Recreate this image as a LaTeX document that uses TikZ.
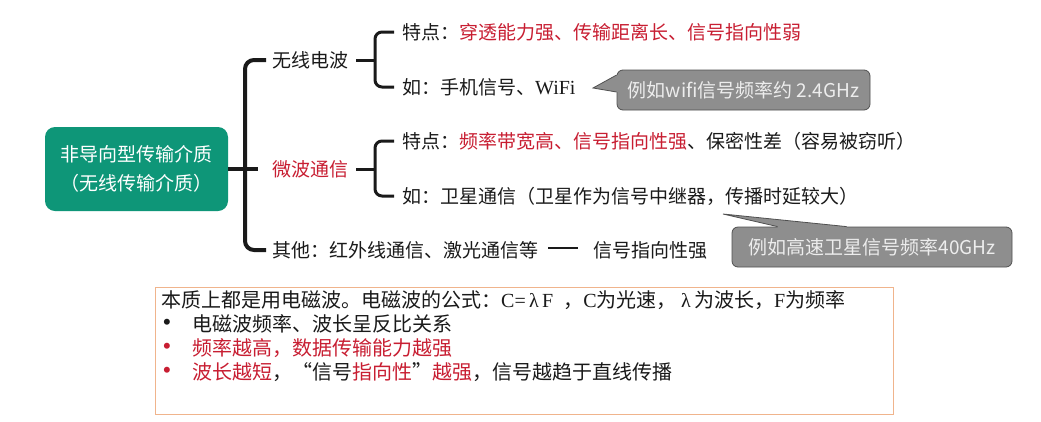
\documentclass[tikz,border=0pt]{standalone}
\usepackage{fontspec}
\setmainfont{Noto Sans CJK SC}
\newfontfamily\serifx{Liberation Serif}
\usetikzlibrary{calc}
\definecolor{teal1}{HTML}{0E9678}
\definecolor{redt}{RGB}{200,30,50}
\definecolor{callfill}{HTML}{8E8E8E}
\definecolor{callline}{HTML}{505050}
\definecolor{calltext}{HTML}{EDEDED}
\definecolor{boxline}{HTML}{F0B48C}
\definecolor{ink}{HTML}{1A1A1A}
\begin{document}
\begin{tikzpicture}[x=1pt,y=-1pt,
  every node/.style={inner sep=0pt, text=ink, font=\fontsize{19}{23}\selectfont},
  lbl/.style={anchor=west},
  brk/.style={line width=3pt, rounded corners=7pt, draw=ink},
  mainbrk/.style={line width=4pt, rounded corners=9pt, draw=ink},
  call/.style={fill=callfill, draw=callline, line width=0.8pt, rounded corners=6pt, text=calltext},
  small/.style={anchor=west, font=\fontsize{20}{24}\selectfont},
  bullet/.style={anchor=center, font=\serifx\bfseries\fontsize{22}{24}\selectfont}]
\useasboundingbox (0,0) rectangle (1041,421);
\fill[white] (0,0) rectangle (1041,421);

% root
\node[fill=teal1, rounded corners=10pt, minimum width=183pt, minimum height=84pt,
      align=center, text=white, font=\fontsize{19}{29}\selectfont] (root) at (136.5,169)
      {非导向型传输介质\\（无线传输介质）};

% level 1
\node[lbl] (wave) at (272,60) {无线电波};
\node[lbl, text=redt] (mw) at (272,169) {微波通信};
\node[lbl] (oth) at (272,250) {其他：红外线通信、激光通信等};
\node[lbl] (sig) at (593,250) {信号指向性强};

\coordinate (sp) at (245,169);
\draw[mainbrk] ([xshift=-6pt]wave.west) -| (sp) |- ([xshift=-6pt]oth.west);
\draw[mainbrk] (root.east) -- ([xshift=-14pt]mw.west);
\draw[line width=2.5pt, draw=ink] ([xshift=10pt,yshift=2pt]oth.east) -- ([xshift=-15pt,yshift=2pt]sig.west);

% level 2: radio waves
\node[lbl] (w1) at (402,32) {特点：\textcolor{redt}{穿透能力强、传输距离长、信号指向性弱}};
\node[lbl] (w2) at (402,87) {如：手机信号、{\serifx\fontsize{20}{24}\selectfont WiFi}};
\coordinate (s1) at (375,60);
\draw[brk] ([xshift=-8pt]w1.west) -| (s1) |- ([xshift=-8pt]w2.west);
\draw[brk] ([xshift=8pt]wave.east) -- (s1);

% level 2: microwave
\node[lbl] (m1) at (402,141) {特点：\textcolor{redt}{频率带宽高、信号指向性强}、保密性差（容易被窃听）};
\node[lbl] (m2) at (402,196) {如：卫星通信（卫星作为信号中继器，传播时延较大）};
\coordinate (s2) at (375,169);
\draw[brk] ([xshift=-8pt]m1.west) -| (s2) |- ([xshift=-8pt]m2.west);
\draw[brk] ([xshift=8pt]mw.east) -- (s2);

% callout 1
\node[call, minimum width=253pt, minimum height=40pt] (c1) at (743.5,90) {例如wifi信号频率约 2.4GHz};
\coordinate (t1) at (593,88);
\fill[callfill] (t1) -- ($(c1.west)+(0,-15)$) -- ($(c1.west)+(3,-15)$) -- ($(c1.west)+(3,2)$) -- ($(c1.west)+(0,2)$) -- cycle;
\draw[callline, line width=0.8pt] ($(c1.west)+(0,-15)$) -- (t1) -- ($(c1.west)+(0,2)$);

% callout 2
\node[call, minimum width=280pt, minimum height=40pt] (c2) at (872,247) {例如高速卫星信号频率40GHz};
\coordinate (t2) at (723,214);
\fill[callfill] (t2) -- ($(c2.north west)+(46,0)$) -- ($(c2.north west)+(46,3)$) -- ($(c2.north west)+(115,3)$) -- ($(c2.north west)+(115,0)$) -- cycle;
\draw[callline, line width=0.8pt] ($(c2.north west)+(46,0)$) -- (t2) -- ($(c2.north west)+(115,0)$);

% note box
\node[draw=boxline, line width=1pt, minimum width=738pt, minimum height=127pt] (note) at (524,350.5) {};
\node[small] (n0) at (161,300) {本质上都是用电磁波。电磁波的公式：{\serifx C=\,λ\,F\ \ }，{\serifx C}为光速，\ {\serifx λ\,}为波长，{\serifx F}为频率};
\node[bullet] (b1) at (167,324) {•};
\node[small] (n1) at (192,324) {电磁波频率、波长呈反比关系};
\node[bullet, text=redt] (b2) at (167,348) {•};
\node[small, text=redt] (n2) at (192,348) {频率越高，数据传输能力越强};
\node[bullet, text=redt] (b3) at (167,372) {•};
\node[small] (n3) at (192,372) {\textcolor{redt}{波长越短}，“信号\textcolor{redt}{指向性}”\textcolor{redt}{越强}，信号越趋于直线传播};
\end{tikzpicture}
\end{document}
